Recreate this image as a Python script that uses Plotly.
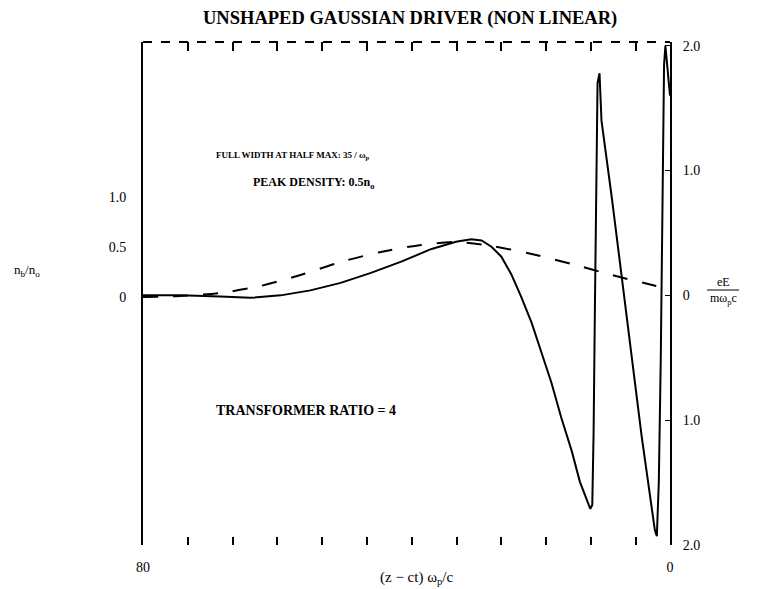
import plotly.graph_objects as go

# ---- data ----
# beam density n_b/n_o (dashed, left axis)
dens_x = [-80, -74.4, -68.3, -62.2, -56.1, -50.0, -43.9, -37.8, -32.5, -27.1, -21.0, -14.9, -8.8, -2.7, 0.0]
dens_y = [0.0, 0.01, 0.04, 0.11, 0.22, 0.35, 0.45, 0.52, 0.55, 0.51, 0.43, 0.33, 0.22, 0.12, 0.08]

# wake field eE/(m w_p c) (solid, right axis)
field_x = [-80, -74.4, -68.3, -63.7, -59.1, -54.6, -50.0, -45.4, -40.8, -36.3, -32.5, -30.2, -28.6,
           -27.1, -25.6, -24.1, -22.6, -21.0, -19.5, -18.0, -16.5, -14.9, -13.7, -12.6, -12.1, -11.8,
           -11.6, -11.4, -11.2, -11.0, -10.7, -10.4, -8.8, -7.3, -5.8, -4.3, -2.7, -2.3, -2.0, -1.7,
           -1.4, -1.1, -0.9, -0.7, -0.4, 0.0]
field_y = [0.0, 0.0, -0.01, -0.02, 0.0, 0.04, 0.10, 0.18, 0.27, 0.37, 0.43, 0.45, 0.44,
           0.39, 0.31, 0.17, -0.01, -0.22, -0.46, -0.70, -0.98, -1.25, -1.49, -1.65, -1.71, -1.68,
           -1.1, -0.1, 0.9, 1.70, 1.78, 1.40, 0.77, 0.13, -0.50, -1.13, -1.73, -1.88, -1.93, -1.5,
           -0.5, 0.9, 1.85, 2.0, 1.85, 1.6]

left_ticks = [0, 0.5, 1.0]
left_labels = ["0", "0.5", "1.0"]
right_ticks = [2.0, 1.0, 0, -1.0, -2.0]
right_labels = ["2.0", "1.0", "0", "1.0", "2.0"]
x_ticks = [-80, 0]
x_labels = ["80", "0"]

FONT = "Liberation Serif"
L, R, T, B = 143, 101, 42, 44
W, H = 771, 589
PW, PH = W - L - R, H - T - B

fig = go.Figure()
fig.add_trace(go.Scatter(x=dens_x, y=dens_y, mode="lines",
                         line=dict(color="black", width=2, dash="longdash", shape="spline", smoothing=0.8),
                         xaxis="x", yaxis="y", showlegend=False))
fig.add_trace(go.Scatter(x=field_x, y=field_y, mode="lines", line=dict(color="black", width=2),
                         xaxis="x", yaxis="y2", showlegend=False))

tf = dict(family=FONT, color="black", size=14)
fig.update_layout(
    width=W, height=H,
    margin=dict(l=L, r=R, t=T, b=B),
    paper_bgcolor="white", plot_bgcolor="white",
    font=dict(family=FONT, color="black", size=13),
    xaxis=dict(range=[-80, 0], tickvals=x_ticks, ticktext=x_labels, showgrid=False, zeroline=False,
               showline=False, ticks="", ticklabelstandoff=12, tickfont=tf),
    xaxis2=dict(range=[-80, 0], overlaying="x", side="top", showgrid=False, zeroline=False, showline=False,
                tick0=-80, dtick=6.8, ticks="inside", ticklen=9, tickwidth=2, tickcolor="black",
                showticklabels=False),
    xaxis3=dict(range=[-80, 0], overlaying="x", side="bottom", showgrid=False, zeroline=False, showline=False,
                tick0=-80, dtick=6.8, ticks="inside", ticklen=8, tickwidth=2, tickcolor="black",
                showticklabels=False),
    yaxis=dict(range=[-2.48, 2.55], tickvals=left_ticks, ticktext=left_labels, showgrid=False, zeroline=False,
               showline=True, linecolor="black", linewidth=2, ticks="", ticklabelstandoff=12, tickfont=tf),
    yaxis2=dict(range=[-2.0, 2.03], overlaying="y", side="right", tickvals=right_ticks, ticktext=right_labels,
                showgrid=False, zeroline=False, showline=True, linecolor="black", linewidth=2,
                ticks="inside", ticklen=5, tickcolor="black", ticklabelstandoff=8, tickfont=tf),
)
# dummy traces to activate the tick-only axes
fig.add_trace(go.Scatter(x=[-80], y=[0], xaxis="x2", yaxis="y", mode="markers", marker=dict(opacity=0),
                         showlegend=False, hoverinfo="skip"))
fig.add_trace(go.Scatter(x=[-80], y=[0], xaxis="x3", yaxis="y", mode="markers", marker=dict(opacity=0),
                         showlegend=False, hoverinfo="skip"))

# dashed top frame line
fig.add_shape(type="line", xref="paper", yref="paper", x0=0, x1=1, y0=1, y1=1,
              line=dict(color="black", width=2, dash="dash"))


def px(xp):
    return (xp - L) / PW


def py(yp):
    return (H - B - yp) / PH


ann = [
    dict(text="<b>UNSHAPED GAUSSIAN DRIVER (NON LINEAR)</b>", x=410, y=18, size=18.5),
    dict(text="<b>FULL WIDTH AT HALF MAX:</b> <b>35 / ω<sub>p</sub></b>", x=293, y=155, size=9),
    dict(text="<b>PEAK DENSITY: 0.5n<sub>o</sub></b>", x=313, y=183, size=12),
    dict(text="<b>TRANSFORMER RATIO = 4</b>", x=306, y=411, size=14),
    dict(text="n<sub>b</sub>/n<sub>o</sub>", x=27, y=270, size=13),
    dict(text="(z − ct) ω<sub>p</sub>/c", x=416, y=578, size=15),
    dict(text="eE", x=723, y=282, size=12),
    dict(text="mω<sub>p</sub>c", x=723, y=299, size=12),
]
for a in ann:
    fig.add_annotation(text=a["text"], x=px(a["x"]), y=py(a["y"]), xref="paper", yref="paper",
                       showarrow=False, font=dict(family=FONT, size=a["size"], color="black"),
                       xanchor="center", yanchor="middle")
fig.add_shape(type="line", xref="paper", yref="paper", x0=px(707), x1=px(739), y0=py(290), y1=py(290),
              line=dict(color="black", width=1))

fig.write_html("out.html")
